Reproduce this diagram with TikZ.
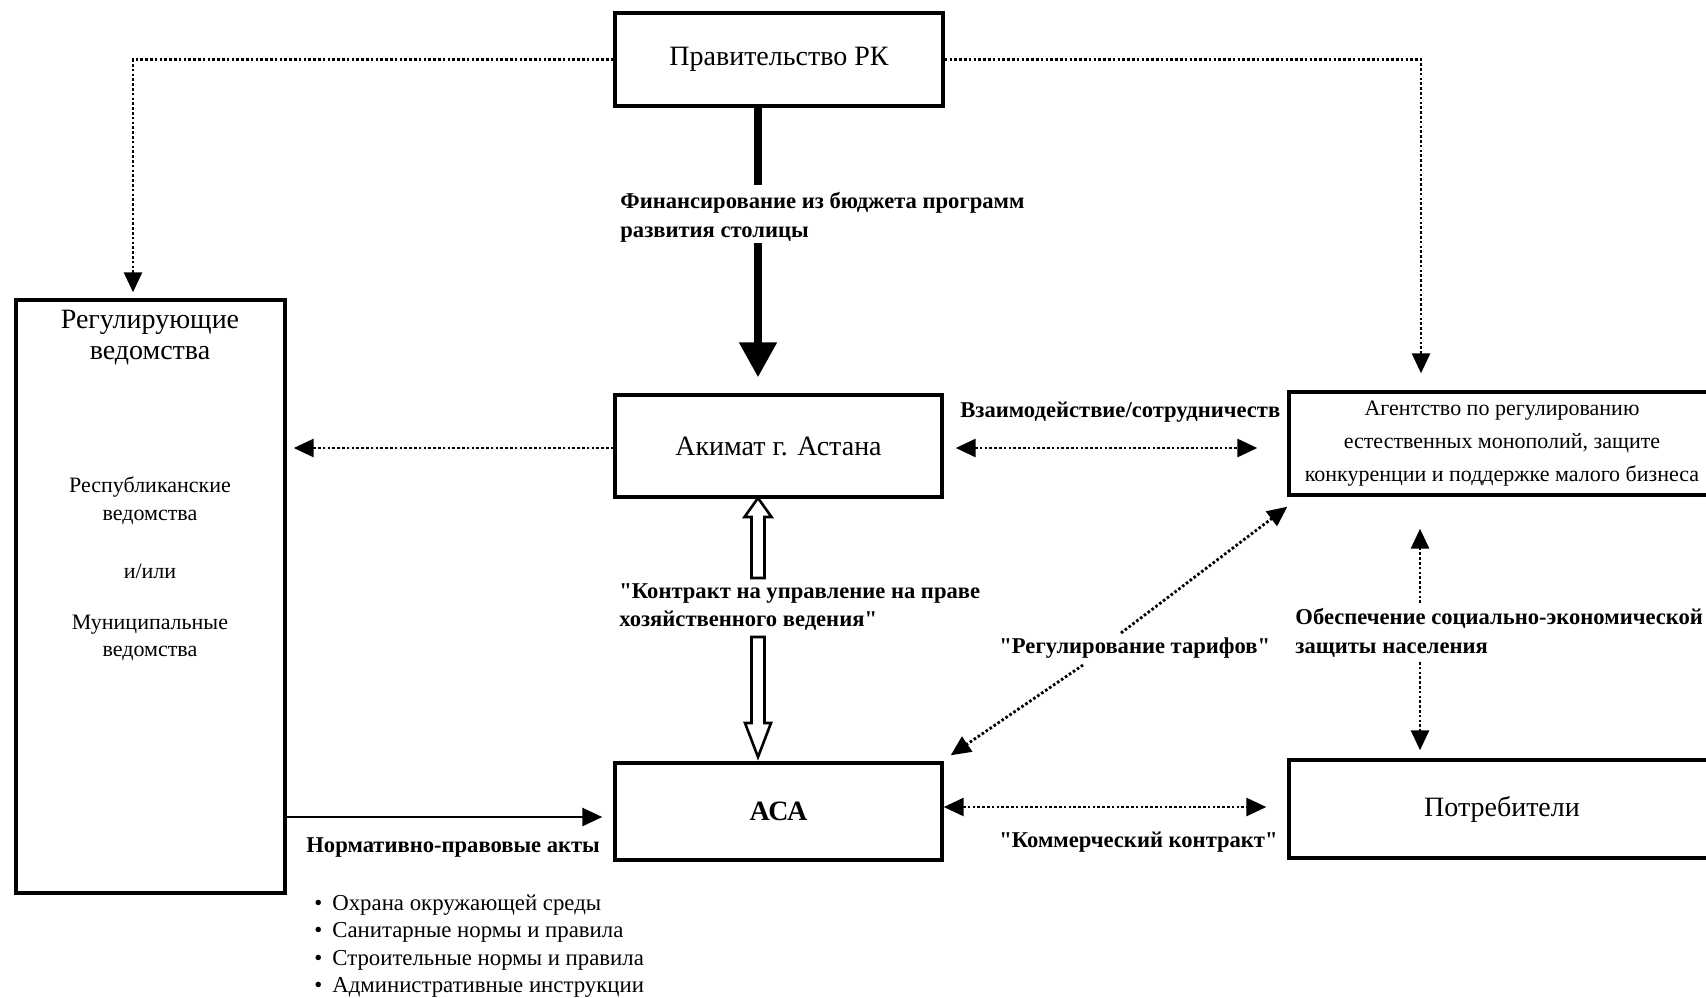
\documentclass[tikz,border=0pt]{standalone}
\usepackage{fontspec}
\setmainfont{Liberation Serif}[Ligatures=TeXOff]
\usetikzlibrary{arrows.meta,calc}
\begin{document}
\begin{tikzpicture}[x=0.5pt,y=-0.5pt,
  box/.style={draw,line width=1.7pt,inner sep=0pt,align=center},
  big/.style={font=\fontsize{14}{17}\selectfont},
  small/.style={font=\fontsize{11}{13}\selectfont},
  lbl/.style={font=\bfseries\fontsize{11.3}{14.5}\selectfont,anchor=west,inner sep=0pt,align=left},
  dotl/.style={line width=1.4pt,dash pattern=on 1.3pt off 1.1pt},
  tipe/.style={-{Triangle[length=10pt,width=9pt]}},
  tipb/.style={{Triangle[length=10pt,width=9pt]}-{Triangle[length=10pt,width=9pt]}},
  hollow/.style={draw,line width=1.3pt,fill=white,line join=miter}
]
\useasboundingbox (0,0) rectangle (1706,997);
\clip (0,0) rectangle (1706,997);

% boxes
\node[box,big,minimum width=164pt,minimum height=46.5pt] (gov) at (779,59.5) {Правительство РК};
\node[box,big,minimum width=163.5pt,minimum height=51pt] (akim) at (778.5,446) {Акимат г. Астана};
\node[box,font=\bfseries\fontsize{14}{17}\selectfont,minimum width=163.5pt,minimum height=48.5pt] (aca) at (778.5,811.5) {АСА};
\node[box,big,minimum width=213pt,minimum height=49pt] (potr) at (1502,809) {Потребители};
\node[box,font=\fontsize{11}{16.5}\selectfont,minimum width=213pt,minimum height=51.5pt] (agency) at (1502,443.5) {Агентство по регулированию\\естественных монополий, защите\\конкуренции и поддержке малого бизнеса};
\node[box,minimum width=134.5pt,minimum height=296.5pt] (reg) at (150.5,596.5) {};

% text inside regulators box
\node[big] (rt1) at (150,322) {Регулирующие};
\node[big] (rt2) at (150,356) {ведомства};
\node[small] (rt3) at (150,487) {Республиканские};
\node[small] (rt4) at (150,517) {ведомства};
\node[small] (rt5) at (150,571) {и/или};
\node[small] (rt6) at (150,625) {Муниципальные};
\node[small] (rt7) at (150,653) {ведомства};

% helper coordinates
\coordinate (lx) at (133,0);
\coordinate (rx) at (1421,0);
\coordinate (ax) at (758,0);
\coordinate (vx) at (1420,0);
\coordinate (f1) at (758,185);
\coordinate (f2) at (758,243);
\coordinate (d1) at (1121,633);
\coordinate (d2) at (1083,665);
\coordinate (v1) at (1420,603);
\coordinate (v2) at (1420,662);
\coordinate (cy1) at (0,448);
\coordinate (cy2) at (0,807);
\coordinate (ny) at (0,817);

% government dotted connectors
\draw[dotl,tipe,shorten >=3pt] (gov.west) -| (reg.north -| lx);
\draw[dotl,tipe,shorten >=8.5pt] (gov.east) -| (agency.north -| rx);

% thick financing arrow
\draw[line width=4pt] (gov.south -| ax) -- (f1);
\draw[line width=4pt,-{Triangle[length=17.5pt,width=18pt]},shorten >=8pt] (f2) -- (akim.north -| ax);

% akimat connectors
\draw[dotl,tipe,shorten >=3.5pt] (akim.west |- cy1) -- (reg.east |- cy1);
\draw[dotl,tipb,shorten <=6pt,shorten >=15pt] (akim.east |- cy1) -- (agency.west |- cy1);

% hollow contract arrows
\draw[hollow] (758,498) -- (771.5,517) -- (764.5,517) -- (764.5,578) -- (751.5,578) -- (751.5,517) -- (744.5,517) -- cycle;
\draw[hollow] (758,757) -- (771,723) -- (764.5,723) -- (764.5,637) -- (751.5,637) -- (751.5,723) -- (745,723) -- cycle;

% tariff regulation diagonal
\draw[dotl,tipe] (d1) -- ([yshift=-5pt]agency.south west);
\draw[dotl,tipe] (d2) -- ([shift={(3.5pt,3pt)}]aca.north east);

% social protection vertical
\draw[dotl,tipe,shorten >=16pt] (v1) -- (agency.south -| vx);
\draw[dotl,tipe,shorten >=4pt] (v2) -- (potr.north -| vx);

% commercial contract
\draw[dotl,tipb,shorten >=10.5pt] (aca.east |- cy2) -- (potr.west |- cy2);

% normative acts
\draw[line width=1.4pt,tipe,shorten >=5.5pt] (reg.east |- ny) -- (aca.west |- ny);

% labels
\node[lbl] (lfin) at (620,217.5) {Финансирование из бюджета программ\\развития столицы};
\node[lbl] (lvz) at (960,412) {Взаимодействие/сотрудничеств};
\node[lbl,font=\bfseries\fontsize{11.3}{14}\selectfont] (lkon) at (619,607) {"Контракт на управление на праве\\хозяйственного ведения"};
\node[lbl] (ltar) at (999,648) {"Регулирование тарифов"};
\node[lbl] (lobe) at (1295,632.5) {Обеспечение социально-экономической\\защиты населения};
\node[lbl] (lkom) at (999,842) {"Коммерческий контракт"};
\node[lbl] (lnorm) at (306,847) {Нормативно-правовые акты};
\node[anchor=west,inner sep=0pt,align=left,font=\fontsize{11.4}{13.75}\selectfont] (list) at (314,946)
  {•\hspace{5pt}Охрана окружающей среды\\•\hspace{5pt}Санитарные нормы и правила\\•\hspace{5pt}Строительные нормы и правила\\•\hspace{5pt}Административные инструкции};
\end{tikzpicture}
\end{document}
